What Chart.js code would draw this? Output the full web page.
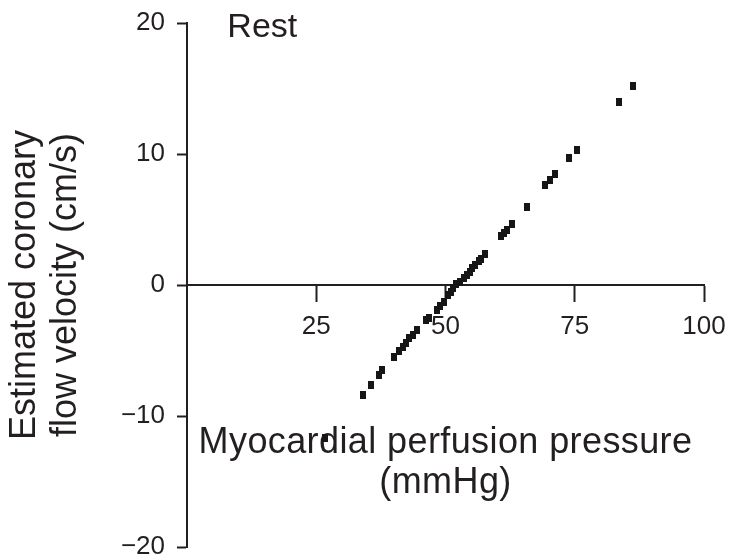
<!DOCTYPE html>
<html>
<head>
<meta charset="utf-8">
<script src="https://cdn.jsdelivr.net/npm/chart.js@4.4.1/dist/chart.umd.min.js"></script>
<style>
  html, body { margin: 0; padding: 0; background: #ffffff; }
  #wrap { width: 730px; height: 559px; }
</style>
</head>
<body>
<div id="wrap"><canvas id="chartRest"></canvas></div>
<script>
// ============ DATA ============
// perfusion pressure (mmHg) and estimated flow velocity (cm/s)
var pressure = [26.6, 34.1, 35.5, 37.2, 37.8, 40.1, 41.0, 41.7, 42.4, 43.0, 43.7, 44.4,
                46.3, 46.9, 48.3, 48.9, 49.8, 50.4, 51.0, 51.4, 52.1, 52.9, 53.5, 54.1,
                54.7, 55.2, 55.8, 56.4, 56.9, 57.6, 60.8, 61.3, 61.8, 62.8, 65.7, 69.3,
                70.2, 71.1, 73.8, 75.5, 83.5, 86.2];
var velocity = [-11.65, -8.4, -7.6, -6.9, -6.5, -5.5, -5.0, -4.7, -4.4, -4.05, -3.8, -3.4,
                -2.7, -2.5, -1.9, -1.6, -1.3, -0.8, -0.5, -0.25, 0.05, 0.2, 0.5, 0.8,
                1.0, 1.3, 1.5, 1.8, 2.0, 2.4, 3.75, 4.0, 4.2, 4.65, 5.95, 7.6,
                8.0, 8.5, 9.7, 10.3, 14.0, 15.2];
var xTicks = [25, 50, 75, 100];
var yTicks = [-20, -10, 0, 10, 20];

var panelLabel = 'Rest';
var xTitle = ['Myocardial perfusion pressure', '(mmHg)'];
var yTitle = ['Estimated coronary', 'flow velocity (cm/s)'];

// ============ STYLE ============
var INK = '#231f20';
var FONT = "'Liberation Sans', Arial, sans-serif";

// small upright rectangle used as marker
var marker = document.createElement('canvas');
marker.width = 6;
marker.height = 8;
var mctx = marker.getContext('2d');
mctx.fillStyle = '#161616';
mctx.fillRect(0, 0, 6, 8);

// panel label + x title sit inside the plot, drawn under the points
var textPlugin = {
  id: 'inPlotText',
  beforeDatasetsDraw: function(chart) {
    var ctx = chart.ctx;
    var sx = chart.scales.x, sy = chart.scales.y;
    ctx.save();
    ctx.fillStyle = INK;
    ctx.textBaseline = 'alphabetic';

    ctx.font = '34px ' + FONT;
    ctx.textAlign = 'left';
    ctx.fillText(panelLabel, sx.getPixelForValue(7.8), sy.getPixelForValue(18.95));

    ctx.font = '36px ' + FONT;
    ctx.letterSpacing = '0.4px';
    ctx.textAlign = 'center';
    var cx = sx.getPixelForValue(50);
    ctx.fillText(xTitle[0], cx, sy.getPixelForValue(-12.85));
    ctx.fillText(xTitle[1], cx, sy.getPixelForValue(-15.85));
    ctx.restore();
  }
};

// keep tick-label overhang from shrinking the plot
function noPad(s) {
  s.paddingTop = 0;
  s.paddingBottom = 0;
  s.paddingLeft = 0;
  s.paddingRight = 0;
}

var points = pressure.map(function(p, i) { return { x: p, y: velocity[i] }; });

new Chart(document.getElementById('chartRest'), {
  type: 'scatter',
  data: {
    datasets: [{
      data: points,
      pointStyle: marker,
      pointRadius: 4,
      pointHoverRadius: 4
    }]
  },
  options: {
    responsive: true,
    maintainAspectRatio: false,
    animation: false,
    devicePixelRatio: 1,
    layout: {
      autoPadding: false,
      padding: { top: 23, right: 26, bottom: 12, left: 0 }
    },
    plugins: {
      legend: { display: false },
      tooltip: { enabled: false }
    },
    scales: {
      x: {
        type: 'linear',
        min: 0,
        max: 100,
        position: { y: 0 },
        afterBuildTicks: function(s) { s.ticks = xTicks.map(function(v) { return { value: v }; }); },
        afterFit: noPad,
        grid: { drawOnChartArea: false, tickLength: 16, tickWidth: 2, tickColor: INK },
        border: { display: true, color: INK, width: 2 },
        ticks: { color: INK, padding: 10, maxRotation: 0, font: { family: FONT, size: 26 } }
      },
      y: {
        type: 'linear',
        min: -20,
        max: 20,
        position: 'left',
        afterBuildTicks: function(s) { s.ticks = yTicks.map(function(v) { return { value: v }; }); },
        afterFit: function(s) { noPad(s); s.width = 187; },
        grid: { drawOnChartArea: false, tickLength: 10, tickWidth: 2, tickColor: INK },
        border: { display: true, color: INK, width: 2 },
        ticks: {
          color: INK,
          padding: 12,
          font: { family: FONT, size: 26 },
          callback: function(v) { return v < 0 ? '\u2212' + Math.abs(v) : String(v); }
        },
        title: {
          display: true,
          text: yTitle,
          color: INK,
          padding: { top: 5, bottom: 0 },
          font: { family: FONT, size: 36, lineHeight: 1.14 }
        }
      }
    }
  },
  plugins: [textPlugin]
});
</script>
</body>
</html>
